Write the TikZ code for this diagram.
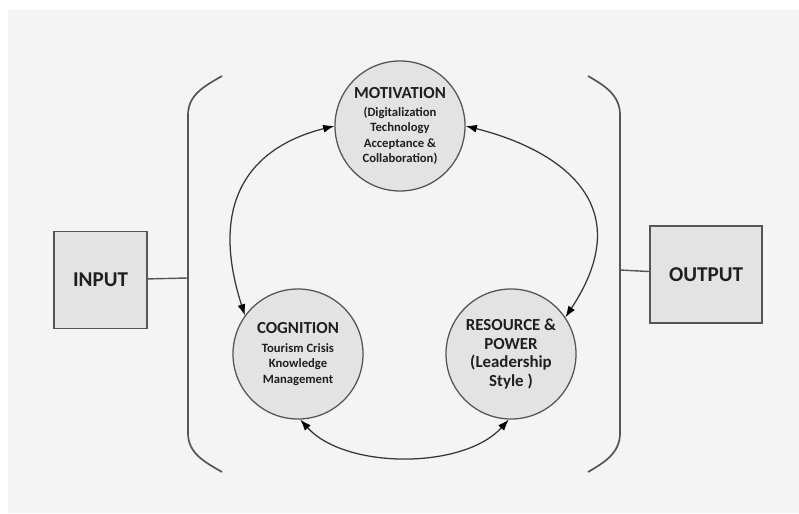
\documentclass[tikz,border=0pt]{standalone}
\usepackage{fontspec}
\setmainfont{Carlito}
\usetikzlibrary{arrows.meta}

\definecolor{pagegray}{HTML}{F4F4F4}
\definecolor{shapefill}{HTML}{E3E3E3}
\definecolor{edgegray}{HTML}{555555}
\newcommand{\bigtxt}{\fontsize{12}{13.5}\selectfont}
\newcommand{\smalltxt}{\fontsize{9}{10.8}\selectfont}

\begin{document}
\begin{tikzpicture}[x=0.025cm, y=0.025cm,
                    phase/.style={circle, draw=edgegray, line width=0.9pt,
                                  fill=shapefill, minimum size=3.25cm,
                                  inner sep=0pt, align=center, text=black!88},
                    io/.style={rectangle, draw=edgegray, line width=1.4pt,
                               fill=shapefill, minimum height=2.425cm,
                               text=black!88,
                               font=\fontsize{15}{18}\selectfont\bfseries},
                    link/.style={black!78, line width=0.9pt,
                                 {Latex[length=2.8mm,width=2mm,black]}-{Latex[length=2.8mm,width=2mm,black]}},
                    brace/.style={edgegray, line width=1.2pt}]
                      % page
                      \fill[white] (0,0) rectangle (799,513);
                      \fill[pagegray] (8,0) rectangle (799,503);

                      % the three circles
                      \node[phase, font=\smalltxt\bfseries] (mot) at (400,387)
                          {{\bigtxt MOTIVATION}\\[2pt] (Digitalization\\ Technology\\
                           Acceptance \&\\ Collaboration)};
                      \node[phase, font=\smalltxt\bfseries] (cog) at (298,159)
                          {{\bigtxt COGNITION}\\[2.5pt] Tourism Crisis\\ Knowledge\\
                           Management};
                      \node[phase, font=\bigtxt\bfseries] (res) at (511,159)
                          {RESOURCE \&\\ POWER\\ (Leadership\\ Style )};

                      % input and output
                      \node[io, minimum width=2.325cm] (inp) at (100.5,233) {INPUT};
                      \node[io, minimum width=2.8cm] (out) at (706,238.5) {OUTPUT};

                      % brackets
                      \draw[brace] (222,437) to[out=210,in=90] (188,398) -- (188,80)
                          to[out=-90,in=150] (222,41);
                      \draw[brace] (588,437) to[out=-30,in=90] (620,398) -- (620,80)
                          to[out=-90,in=30] (588,41);
                      \coordinate (lbr) at (188,235);
                      \coordinate (rbr) at (620,243);

                      \foreach \i/\j in {inp/lbr, rbr/out} {
                              \draw[brace, line width=1pt] (\i) -- (\j);
                          }

                      % cycle
                      \draw[link] (mot.west) .. controls +(-80,-20) and +(-38,118) .. (cog.144);
                      \draw[link] (mot.east) .. controls +(80,-20) and +(80,121) .. (res.34);
                      \draw[link] (cog.-88) .. controls +(45,-50) and +(-45,-50) .. (res.-92);
                  \end{tikzpicture}
\end{document}
